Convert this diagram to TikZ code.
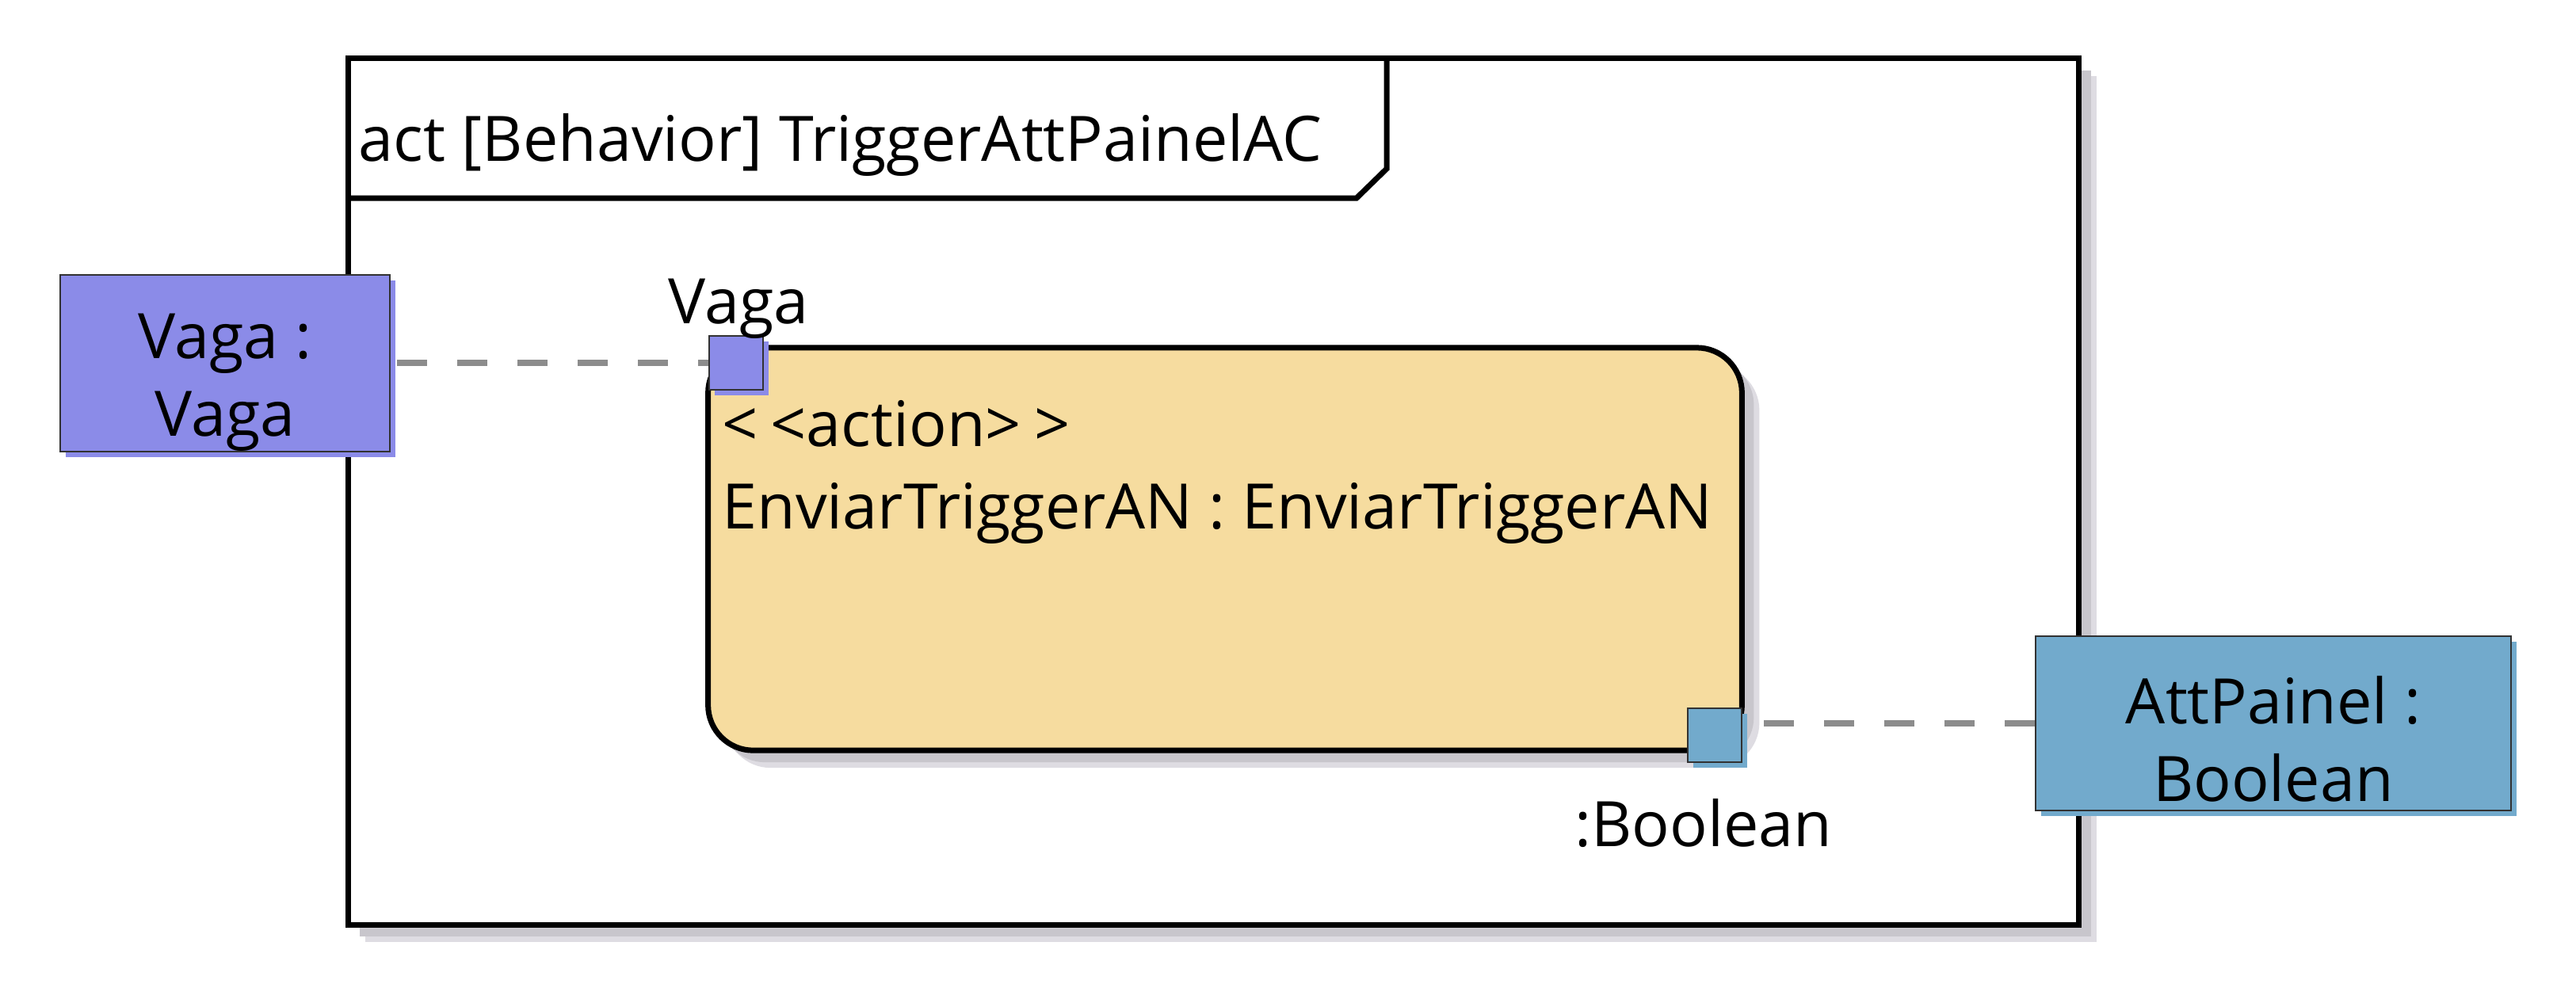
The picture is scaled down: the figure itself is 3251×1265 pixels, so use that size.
\documentclass[tikz,border=0pt]{standalone}
\usepackage{fontspec}
\setmainfont{Open Sans}
\usetikzlibrary{shadows}
\definecolor{vagaBlue}{RGB}{139,139,232}
\definecolor{boolBlue}{RGB}{114,170,204}
\definecolor{actionFill}{RGB}{246,220,159}
\definecolor{flowGray}{RGB}{140,140,140}
\definecolor{shadowDark}{RGB}{200,198,204}
\definecolor{shadowLight}{RGB}{222,220,226}
\definecolor{objLine}{RGB}{50,50,50}
\newcommand\objfont{\fontsize{22.5pt}{28pt}\selectfont}
% struts that push the object text a bit below the middle
\newcommand\objtop{\rule{0pt}{30pt}}
\newcommand\objbot{\rule[-2pt]{0pt}{0pt}}
\tikzset{
  bandshadow/.style={
    drop shadow={shadow xshift=.22cm, shadow yshift=-.22cm, fill=shadowLight, opacity=1},
    drop shadow={shadow xshift=.15cm, shadow yshift=-.15cm, fill=shadowDark, opacity=1}},
  framebox/.style={draw, line width=.07cm, fill=white, inner sep=0, bandshadow},
  actionbox/.style={draw, line width=.07cm, fill=actionFill, rounded corners=.57cm, inner sep=0, bandshadow},
  objbox/.style={draw=objLine, line width=.02cm, fill=#1, inner sep=0, align=center, font=\objfont,
    drop shadow={shadow xshift=.07cm, shadow yshift=-.07cm, fill=#1, opacity=1}},
  pinbox/.style={objbox=#1, minimum size=.68cm},
  lbl/.style={inner sep=0, font=\objfont},
  flowline/.style={draw=flowGray, line width=.08cm, dash pattern=on .38cm off .38cm},
}
\begin{document}
\begin{tikzpicture}[x=0.01cm, y=-0.01cm]
\useasboundingbox (0,0) rectangle (3251,1265);
% frame and its name tab
\node[framebox, minimum width=21.83cm, minimum height=10.93cm] (frm) at (1531.5,620.5) {};
\draw[line width=.07cm] (440,250) -- (1712,250) -- (1750,213) -- (1750,74);
\node[lbl, anchor=base west] (title) at (452,203) {act [Behavior] TriggerAttPainelAC};
% action
\node[actionbox, minimum width=13.04cm, minimum height=5.08cm] (act) at (1546,693) {};
\node[lbl, anchor=base west] (actStereo) at (911,563) {<\kern.2em<action>\kern.2em>};
\node[lbl, anchor=base west] (actName) at (911,667) {EnviarTriggerAN : EnviarTriggerAN};
% pins
\node[pinbox=vagaBlue] (pinVaga) at (929,458) {};
\node[pinbox=boolBlue] (pinBool) at (2164,928) {};
\node[lbl, anchor=base] (lblVaga) at (932,408) {Vaga};
\node[lbl, anchor=base] (lblBool) at (2150,1068) {:Boolean};
% objects
\node[objbox=vagaBlue, minimum width=4.16cm, minimum height=2.2cm] (vaga) at (284,458) {\objtop Vaga :\\Vaga\objbot};
\node[objbox=boolBlue, minimum width=6cm, minimum height=2.2cm] (att) at (2869,913) {\objtop AttPainel :\\Boolean\objbot};
% object flows
\draw[flowline] ([xshift=.08cm]vaga.east) -- (vaga.east -| pinVaga.west);
\draw[flowline] (att.west) -- (att.west -| pinBool.east);
\end{tikzpicture}
\end{document}
